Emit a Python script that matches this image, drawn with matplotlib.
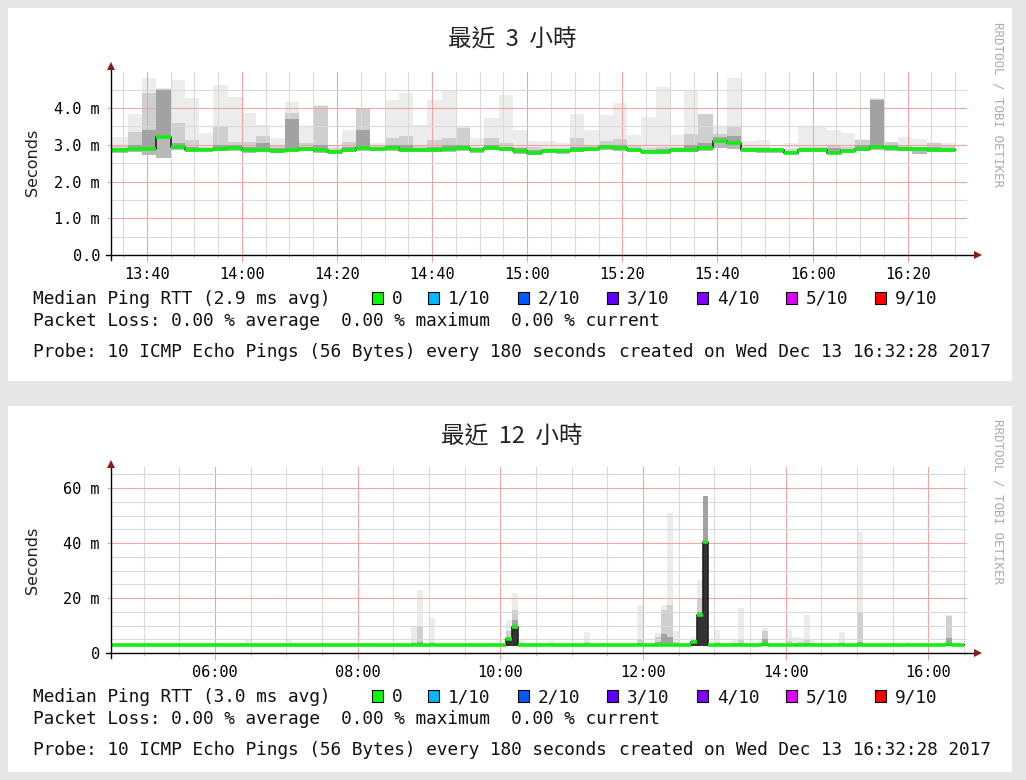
import datetime as dt
import numpy as np
import matplotlib
matplotlib.use("Agg")
import matplotlib.pyplot as plt
import matplotlib.dates as mdates
from matplotlib.patches import Rectangle, Polygon
from matplotlib.lines import Line2D
from matplotlib.ticker import MultipleLocator, FuncFormatter

plt.rcParams['font.family'] = ['DejaVu Sans Mono']

W, H = 1026, 780


def fx(px):
    return px / W


def fy(py):
    return 1 - py / H


# ---- last 3 hours : 180 s steps from 13:30 (ms) ----
start_3h = dt.datetime(2017, 12, 13, 13, 30)
step_3h = 3
med_3h = [2.85, 2.85, 2.88, 2.88, 3.20, 2.95, 2.86, 2.87, 2.88, 2.92,
          2.86, 2.86, 2.84, 2.86, 2.89, 2.86, 2.79, 2.86, 2.90, 2.88,
          2.90, 2.87, 2.86, 2.86, 2.88, 2.90, 2.86, 2.92, 2.88, 2.82,
          2.77, 2.83, 2.83, 2.86, 2.89, 2.93, 2.90, 2.86, 2.80, 2.81,
          2.86, 2.87, 2.90, 3.09, 3.06, 2.86, 2.86, 2.86, 2.77, 2.86,
          2.86, 2.78, 2.82, 2.88, 2.93, 2.90, 2.88, 2.88, 2.86, 2.86]
max_3h = [3.22, 3.22, 3.83, 4.81, 4.55, 4.76, 4.26, 3.31, 4.63, 4.29,
          3.86, 3.54, 3.18, 4.17, 3.49, 4.08, 3.00, 3.40, 4.00, 3.05,
          4.22, 4.40, 3.55, 4.22, 4.49, 3.47, 3.18, 3.72, 4.35, 3.40,
          3.11, 3.10, 3.05, 3.83, 3.40, 3.81, 4.13, 3.27, 3.76, 4.58,
          3.27, 4.49, 3.83, 3.50, 4.82, 3.10, 3.13, 2.95, 3.05, 3.49,
          3.49, 3.40, 3.31, 3.16, 4.27, 3.08, 3.22, 3.15, 3.08, 3.05]
p9_3h = [3.00, 3.00, 3.36, 4.40, 4.53, 3.58, 3.13, 2.95, 3.49, 3.08,
         3.08, 3.24, 3.00, 3.86, 3.05, 4.05, 2.90, 3.08, 3.99, 2.98,
         3.18, 3.24, 3.00, 3.13, 3.18, 3.45, 2.95, 3.18, 3.05, 2.95,
         2.95, 2.92, 2.90, 3.18, 2.98, 3.10, 3.15, 3.00, 2.92, 2.95,
         2.95, 3.29, 3.83, 3.30, 3.47, 2.95, 2.95, 2.90, 2.88, 2.95,
         2.95, 3.00, 2.95, 3.14, 4.25, 3.07, 3.00, 2.95, 3.05, 3.00]
p8_3h = [2.92, 2.92, 3.00, 3.40, 4.50, 3.05, 2.95, 2.90, 3.00, 3.00,
         2.95, 3.05, 2.92, 3.69, 2.95, 3.00, 2.85, 2.95, 3.40, 2.92,
         3.00, 3.00, 2.92, 2.95, 2.98, 3.00, 2.90, 3.00, 2.95, 2.90,
         2.85, 2.88, 2.86, 2.95, 2.92, 3.00, 3.00, 2.92, 2.86, 2.88,
         2.90, 3.00, 3.05, 3.20, 3.25, 2.90, 2.90, 2.87, 2.82, 2.90,
         2.90, 2.90, 2.88, 3.00, 4.22, 3.00, 2.95, 2.90, 2.95, 2.92]
min_3h = [2.78, 2.78, 2.80, 2.72, 2.65, 2.85, 2.80, 2.82, 2.82, 2.84,
          2.78, 2.80, 2.78, 2.80, 2.82, 2.78, 2.74, 2.80, 2.82, 2.82,
          2.83, 2.80, 2.80, 2.80, 2.80, 2.84, 2.78, 2.85, 2.82, 2.76,
          2.72, 2.78, 2.76, 2.80, 2.83, 2.85, 2.84, 2.80, 2.75, 2.76,
          2.80, 2.80, 2.83, 2.90, 2.88, 2.80, 2.78, 2.78, 2.74, 2.80,
          2.80, 2.74, 2.78, 2.82, 2.85, 2.84, 2.82, 2.74, 2.80, 2.80]

# ---- last 12 hours : 5 min steps from 04:30 (ms) ----
start_12h = dt.datetime(2017, 12, 13, 4, 30)
step_12h = 5
med_12h = [2.9, 2.9, 2.9, 3.0, 2.9, 2.9, 2.9, 2.9, 3.0, 2.9, 2.9, 2.9,
           2.9, 2.9, 2.9, 2.9, 2.9, 2.9, 3.0, 2.9, 2.9, 2.9, 2.9, 2.9,
           2.9, 2.9, 3.0, 2.9, 2.9, 2.9, 2.9, 2.9, 2.9, 3.0, 2.9, 2.9,
           2.9, 2.9, 2.9, 2.9, 3.0, 3.0, 2.9, 2.9, 2.9, 2.9, 2.9, 2.9,
           2.9, 2.9, 2.9, 2.9, 3.0, 2.9, 2.9, 2.9, 2.9, 2.9, 2.9, 2.9,
           2.9, 2.9, 2.9, 2.9, 2.9, 2.9, 2.9, 5.0, 9.6, 2.9, 2.9, 2.9,
           2.9, 2.9, 2.9, 2.9, 2.9, 2.9, 2.9, 2.9, 3.0, 2.9, 2.9, 2.9,
           2.9, 2.9, 2.9, 2.9, 2.9, 3.0, 2.9, 2.9, 2.9, 2.9, 3.0, 2.9,
           2.9, 2.9, 4.1, 13.8, 40.5, 2.9, 2.9, 2.9, 2.9, 2.9, 2.9, 2.9,
           2.9, 2.9, 3.4, 2.9, 2.9, 2.9, 2.9, 3.0, 2.9, 2.9, 2.9, 2.9,
           2.9, 2.9, 2.9, 2.9, 2.9, 2.9, 3.0, 2.9, 2.9, 2.9, 2.9, 2.9,
           2.9, 2.9, 2.9, 2.9, 2.9, 2.9, 2.9, 2.9, 2.9, 3.2, 2.9, 2.9]
min_12h = 2.7
# steps where the smoke rises above the median
spike_step = [23, 30, 51, 52, 54, 67, 68, 69, 74, 80, 89, 92, 93, 94, 95,
              98, 99, 100, 102, 105, 106, 110, 114, 115, 116, 117, 118,
              123, 126, 134, 141]
spike_max = [4.8, 4.8, 9.6, 22.9, 12.7, 12.0, 21.8, 5.0, 4.5, 7.7, 17.5, 7.3,
             17.5, 51.0, 8.0, 5.9, 26.5, 57.0, 8.4, 5.0, 16.3, 9.0, 8.4,
             5.8, 5.5, 13.8, 5.0, 7.7, 44.0, 4.0, 13.8]
spike_p9 = [3.1, 3.1, 4.0, 9.6, 4.0, 8.0, 15.6, 3.5, 3.2, 4.0, 5.0, 6.0,
            15.6, 17.5, 4.0, 4.8, 20.0, 57.0, 4.0, 3.5, 5.0, 8.0, 4.5,
            3.8, 4.0, 5.0, 3.5, 4.0, 15.0, 3.3, 13.5]
spike_p8 = [3.0, 3.0, 3.2, 4.0, 3.2, 6.0, 12.0, 3.0, 3.0, 3.2, 3.5, 4.0,
            7.0, 5.9, 3.2, 4.3, 15.0, 57.0, 3.2, 3.1, 3.5, 5.0, 3.3,
            3.2, 3.2, 3.5, 3.1, 3.2, 4.0, 3.1, 5.4]

loss_labels = ["0", "1/10", "2/10", "3/10", "4/10", "5/10", "9/10"]
loss_colors = ["#00ff00", "#00b8ff", "#0059ff", "#5e00ff", "#7e00ff",
               "#dd00ff", "#ff0000"]

fig = plt.figure(figsize=(W / 100, H / 100), dpi=100, facecolor="#e6e6e6")

# white panels
for top, bot in [(8, 381), (406, 772)]:
    fig.add_artist(Rectangle((fx(8), fy(bot)), fx(1012) - fx(8), fy(top) - fy(bot),
                             transform=fig.transFigure, facecolor="white",
                             edgecolor="none", zorder=0))


def ext(a):
    a = np.asarray(a, dtype=float)
    return np.append(a, a[-1])


def draw_smoke(ax, start, step, lo, top, p9, p8, med, under):
    n = len(med)
    edges = mdates.date2num([start + dt.timedelta(minutes=step * i) for i in range(n + 1)])
    ax.fill_between(edges, ext(lo), ext(top), step="post", color="#ececec", lw=0, zorder=1)
    ax.fill_between(edges, ext(lo), ext(p9), step="post", color="#cfcfcf", lw=0, zorder=1.1)
    ax.fill_between(edges, ext(lo), ext(p8), step="post", color="#a2a2a2", lw=0, zorder=1.2)
    ax.fill_between(edges, ext(lo), ext(med), step="post", color=under, lw=0, zorder=1.3)
    # dark risers, green treads
    ax.step(edges, ext(med), where="post", color="#222222", lw=1.2, zorder=3)
    ax.hlines(med, edges[:-1], edges[1:], color="#12ee12", lw=2.6, zorder=3.1)


def setup(ax, ymax, ymaj, ymin, yfmt, xlim, xmaj, xmin):
    ax.set_xlim(mdates.date2num(xlim[0]), mdates.date2num(xlim[1]))
    ax.set_ylim(0, ymax)
    for s in ax.spines.values():
        s.set_visible(False)
    ax.set_facecolor("none")
    ax.yaxis.set_major_locator(MultipleLocator(ymaj))
    ax.yaxis.set_minor_locator(MultipleLocator(ymin))
    ax.yaxis.set_major_formatter(FuncFormatter(yfmt))
    ax.xaxis.set_major_locator(xmaj)
    ax.xaxis.set_minor_locator(xmin)
    ax.xaxis.set_major_formatter(mdates.DateFormatter("%H:%M"))
    ax.grid(which="minor", color="#dadada", lw=0.8)
    ax.grid(which="major", color="#f2a4a4", lw=0.8)
    # grid over the light smoke, under the dark smoke
    ax.xaxis.set_zorder(1.15)
    ax.yaxis.set_zorder(1.15)
    ax.tick_params(axis="x", which="major", length=5, width=0.8, color="#f2a4a4",
                   pad=3.5, labelsize=11)
    ax.tick_params(axis="x", which="minor", length=2, width=0.8, color="#cccccc")
    ax.tick_params(axis="y", which="major", length=3, width=0.8, color="#f2a4a4",
                   pad=5, labelsize=11)
    ax.tick_params(axis="y", which="minor", length=0)


def axis_lines(y0, ytop):
    fig.add_artist(Line2D([fx(106), fx(975)], [fy(y0), fy(y0)], transform=fig.transFigure,
                          color="black", lw=1.0, zorder=5))
    fig.add_artist(Line2D([fx(111), fx(111)], [fy(y0 + 5), fy(ytop)], transform=fig.transFigure,
                          color="black", lw=1.0, zorder=5))
    fig.add_artist(Polygon([(fx(974), fy(y0 - 4)), (fx(982), fy(y0)), (fx(974), fy(y0 + 4))],
                           closed=True, transform=fig.transFigure, facecolor="#8b1a1a",
                           edgecolor="none", zorder=5))
    fig.add_artist(Polygon([(fx(107), fy(ytop)), (fx(111), fy(ytop - 8)), (fx(115), fy(ytop))],
                           closed=True, transform=fig.transFigure, facecolor="#8b1a1a",
                           edgecolor="none", zorder=5))


def fmt_3h(v, pos):
    return "0.0" if abs(v) < 1e-9 else "%.1f m" % v


def fmt_12h(v, pos):
    return "0" if abs(v) < 1e-9 else "%d m" % v


# ---- top chart ----
ymax3 = 4.99
ax1 = fig.add_axes([fx(111), fy(255), fx(967) - fx(111), ymax3 * 36.75 / H])
draw_smoke(ax1, start_3h, step_3h, min_3h, max_3h, p9_3h, p8_3h, med_3h, "#b8b8b8")
setup(ax1, ymax3, 1.0, 0.5, fmt_3h,
      (dt.datetime(2017, 12, 13, 13, 32, 28), dt.datetime(2017, 12, 13, 16, 32, 28)),
      mdates.MinuteLocator(byminute=[0, 20, 40]),
      mdates.MinuteLocator(byminute=range(0, 60, 5)))
axis_lines(255, 70)

# ---- bottom chart ----
max_12h = list(med_12h)
p9_12h = list(med_12h)
p8_12h = list(med_12h)
for k, a, b, c in zip(spike_step, spike_max, spike_p9, spike_p8):
    max_12h[k], p9_12h[k], p8_12h[k] = a, b, c
ymax12 = 67.5
ax2 = fig.add_axes([fx(111), fy(653), fx(967) - fx(111), ymax12 * 2.75 / H])
draw_smoke(ax2, start_12h, step_12h, np.full(len(med_12h), min_12h), max_12h,
           p9_12h, p8_12h, med_12h, "#333333")
setup(ax2, ymax12, 20, 5, fmt_12h,
      (dt.datetime(2017, 12, 13, 4, 32, 28), dt.datetime(2017, 12, 13, 16, 32, 28)),
      mdates.HourLocator(byhour=range(0, 24, 2)),
      mdates.MinuteLocator(byminute=[0, 30]))
axis_lines(653, 468)

# ---- titles, labels, legends ----
cjk = ["Noto Sans CJK TC", "DejaVu Sans"]
for title, yc, ylab, leg_y, avg in [("最近  3  小時", 40, 162, 304, "2.9"),
                                    ("最近  12  小時", 437, 560, 702, "3.0")]:
    fig.text(fx(512), fy(yc), title, family=cjk, fontsize=17, ha="center",
             va="center", color="#222222")
    fig.text(fx(32), fy(ylab), "Seconds", family="DejaVu Sans", fontsize=11.5,
             rotation=90, ha="center", va="center", color="#222222")
    fig.text(fx(998), fy(yc + 64), "RRDTOOL / TOBI OETIKER", fontsize=9,
             rotation=270, ha="center", va="center", color="#ababab")
    fig.text(fx(33), fy(leg_y), "Median Ping RTT (%s ms avg)" % avg, fontsize=12.8,
             ha="left", va="baseline", color="#111111")
    for bx, lab, col in zip([372, 428, 518, 607, 697, 786, 875], loss_labels, loss_colors):
        fig.add_artist(Rectangle((fx(bx), fy(leg_y)), 11 / W, 12 / H,
                                 transform=fig.transFigure, facecolor=col,
                                 edgecolor="black", lw=0.8, zorder=5))
        fig.text(fx(bx + 20), fy(leg_y), lab, fontsize=12.8, ha="left",
                 va="baseline", color="#111111")
    fig.text(fx(33), fy(leg_y + 22),
             "Packet Loss: 0.00 % average  0.00 % maximum  0.00 % current",
             fontsize=12.8, ha="left", va="baseline", color="#111111")
    fig.text(fx(33), fy(leg_y + 53),
             "Probe: 10 ICMP Echo Pings (56 Bytes) every 180 seconds",
             fontsize=12.8, ha="left", va="baseline", color="#111111")
    fig.text(fx(991), fy(leg_y + 53), "created on Wed Dec 13 16:32:28 2017",
             fontsize=12.8, ha="right", va="baseline", color="#111111")

fig.savefig("out.png", dpi=100, facecolor=fig.get_facecolor())
